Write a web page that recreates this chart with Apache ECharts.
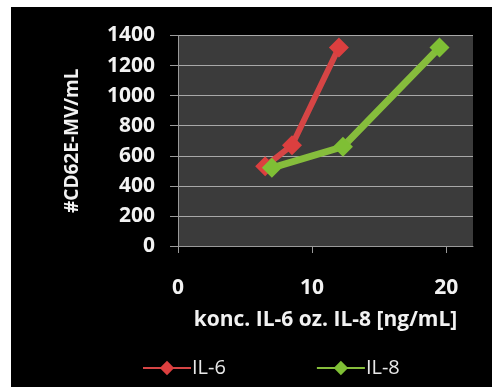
<!DOCTYPE html>
<html>
<head>
<meta charset="utf-8">
<script src="https://cdn.jsdelivr.net/npm/echarts@6/dist/echarts.min.js"></script>
<style>
  html, body { margin: 0; padding: 0; background: #ffffff; }
  #chart { position: absolute; left: 11px; top: 7px; width: 481px; height: 380px; background: #000000; }
</style>
</head>
<body>
<div id="chart"></div>
<script>
// Concentration (ng/mL) vs. CD62E+ microvesicle count per mL
const il6Conc = [6.5, 8.5, 12];
const il6Count = [530, 670, 1320];
const il8Conc = [7, 12.3, 19.5];
const il8Count = [520, 660, 1320];

const xTicks = [0, 10, 20];
const yTicks = [0, 200, 400, 600, 800, 1000, 1200, 1400];

const seriesNames = ['IL-6', 'IL-8'];
const xTitle = 'konc. IL-6 oz. IL-8 [ng/mL]';
const yTitle = '#CD62E-MV/mL';

const pairs = (xs, ys) => xs.map((x, i) => [x, ys[i]]);

const chart = echarts.init(document.getElementById('chart'), null, { renderer: 'canvas' });
const font = 'Open Sans';

chart.setOption({
  animation: false,
  backgroundColor: '#000000',
  grid: {
    left: 167, top: 28.5, width: 295, height: 210.5,
    show: true, backgroundColor: '#3b3b3b', borderWidth: 0
  },
  legend: {
    bottom: 4,
    left: 126,
    itemGap: 90,
    itemWidth: 48,
    itemHeight: 18,
    textStyle: { color: '#e8e8e8', fontFamily: font, fontSize: 20, padding: [0, 0, 0, -4] },
    data: seriesNames
  },
  xAxis: {
    type: 'value',
    min: xTicks[0], max: 22, interval: 10,
    name: xTitle,
    nameLocation: 'middle',
    nameGap: 64,
    nameTextStyle: { color: '#f2f2f2', fontFamily: font, fontSize: 21, fontWeight: 'bold' },
    axisLine: { show: true, lineStyle: { color: '#9a9a9a', width: 1 } },
    axisTick: { show: true, length: 7, lineStyle: { color: '#9a9a9a' } },
    axisLabel: {
      color: '#f2f2f2', fontFamily: font, fontSize: 21, fontWeight: 'bold', margin: 32,
      showMaxLabel: false,
      formatter: v => (xTicks.indexOf(v) >= 0 ? String(v) : '')
    },
    splitLine: { show: false }
  },
  yAxis: {
    type: 'value',
    min: yTicks[0], max: yTicks[yTicks.length - 1], interval: 200,
    name: yTitle,
    nameLocation: 'middle',
    nameGap: 96,
    nameTextStyle: { color: '#f2f2f2', fontFamily: font, fontSize: 19, fontWeight: 'bold' },
    axisLine: { show: true, lineStyle: { color: '#9a9a9a', width: 1 } },
    axisTick: { show: true, length: 8, lineStyle: { color: '#9a9a9a' } },
    axisLabel: {
      color: '#f2f2f2', fontFamily: font, fontSize: 21, fontWeight: 'bold', margin: 23,
      formatter: v => String(v)
    },
    splitLine: { show: true, lineStyle: { color: '#a8a8a8', width: 1 } }
  },
  series: [
    {
      name: seriesNames[0],
      type: 'line',
      data: pairs(il6Conc, il6Count),
      symbol: 'diamond',
      symbolSize: 20,
      lineStyle: { color: '#d64545', width: 6 },
      itemStyle: { color: '#dc3f3f' },
      z: 2
    },
    {
      name: seriesNames[1],
      type: 'line',
      data: pairs(il8Conc, il8Count),
      symbol: 'diamond',
      symbolSize: 20,
      lineStyle: { color: '#86bd3c', width: 7 },
      itemStyle: { color: '#7fbf35' },
      z: 3
    }
  ]
});
</script>
</body>
</html>
